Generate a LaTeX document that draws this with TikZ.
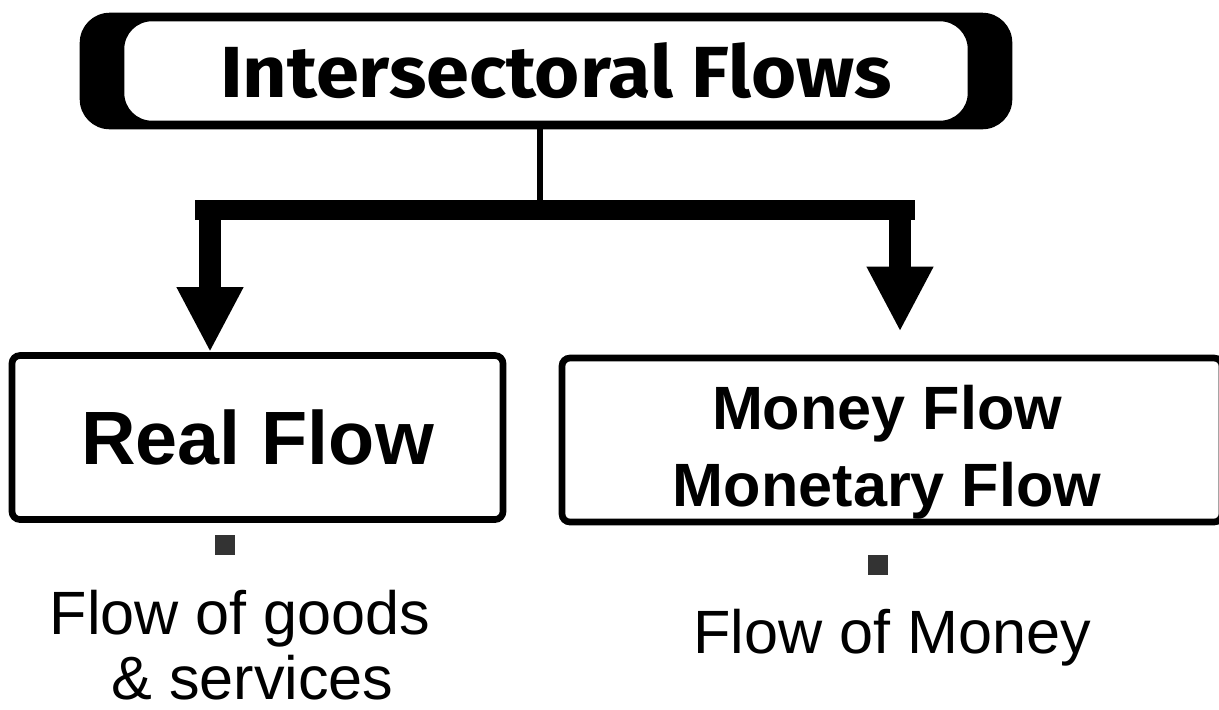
\documentclass[tikz,border=0pt]{standalone}
\usepackage{fontspec}
\setmainfont{Liberation Sans}
\newfontfamily\titlefont{Fira Sans}
\usetikzlibrary{arrows.meta,positioning,backgrounds}

\begin{document}
\begin{tikzpicture}[
  titlebox/.style={draw, line width=1.3pt, rounded corners=3mm, fill=white,
    minimum width=8.48cm, minimum height=1.04cm,
    font=\titlefont\bfseries\fontsize{20.6}{24}\selectfont},
  flowbox/.style={draw, line width=1.9pt, rounded corners=0.8mm, minimum height=1.64cm, align=center},
  note/.style={font=\fontsize{17.4}{18.6}\selectfont, align=center},
  bullet/.style={fill=black!80, minimum size=0.2cm, inner sep=0pt},
  bigarrow/.style={line width=6.5pt, -{Triangle[width=0.62cm,length=0.65cm]}}
]
  \clip (0,0) rectangle (12.19,7.09);
  \node[titlebox] (title) at (5.46,6.38) {\hspace*{2mm}\scalebox{1.07}[1]{Intersectoral Flows}};
  \begin{scope}[on background layer]
    \fill[rounded corners=3mm] ([xshift=-4mm,yshift=0.4mm]title.north west)
      rectangle ([xshift=4mm,yshift=-0.4mm]title.south east);
  \end{scope}

  \node[flowbox, minimum width=4.91cm, font=\bfseries\fontsize{21.5}{24}\selectfont]
    (real) at (2.575,2.715) {Real Flow};
  \node[flowbox, minimum width=6.6cm,
    label={[align=center, xshift=-0.5mm, yshift=-1.2mm, font=\bfseries\fontsize{17.4}{21.9}\selectfont]center:Money Flow\\Monetary Flow}]
    (money) at (8.92,2.69) {};

  \coordinate (junction) at (5.40,4.99);
  \coordinate (barleft) at (1.95,4.99);
  \coordinate (barright) at (9.15,4.99);
  \coordinate (lefttop) at (2.10,5.09);
  \coordinate (righttop) at (9.00,5.09);

  \draw[line width=1.5pt] (title.south -| junction) -- (junction);
  \draw[line width=5.7pt] (barleft) -- (barright);
  \draw[bigarrow] (lefttop) -- (lefttop |- real.north);
  \draw[bigarrow, shorten >=0.23cm] (righttop) -- (righttop |- money.north);

  \node[bullet] (realdot) at (2.25,1.64) {};
  \node[bullet] (moneydot) at (8.78,1.44) {};
  \node[note] (goods) at (2.40,0.64) {Flow of goods\\\hspace*{0.25cm}\& services};
  \node[note] (cash) at (8.92,0.71) {Flow of Money};
\end{tikzpicture}
\end{document}
